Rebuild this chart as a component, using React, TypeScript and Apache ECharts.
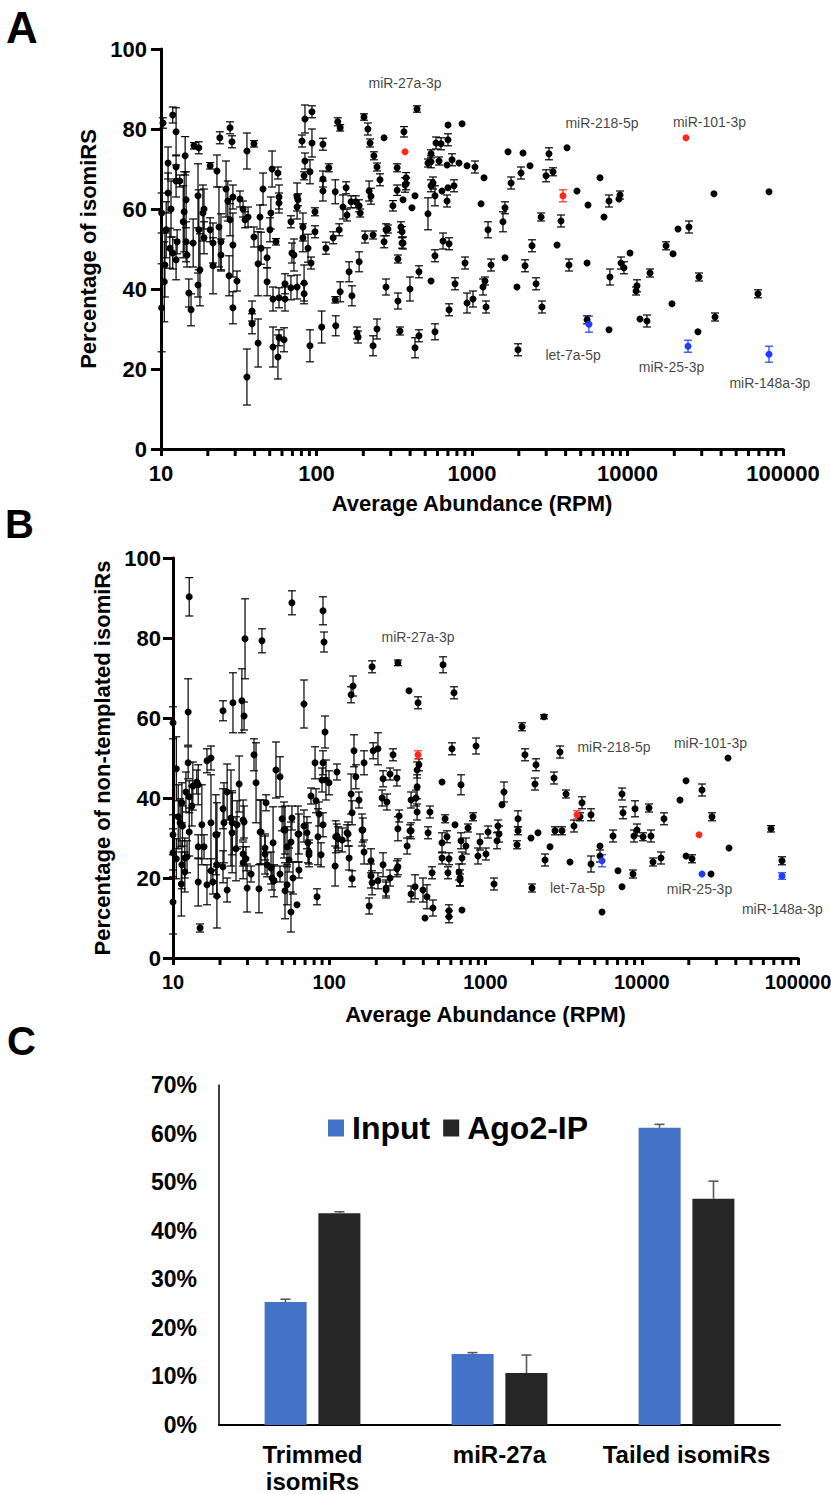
import React, { useEffect, useRef } from "react";
import * as echarts from "echarts";

const FONT = "'Liberation Sans', Arial, Helvetica, sans-serif";

// ---------- Panel A: [average abundance (RPM), percentage of isomiRs, error] ----------
const pointsA: number[][] = [
  [10.3,81.5,1.3],[11.9,83.5,2],[12.5,79.3,6],[11.1,71.5,4],[12.5,70.5,3],[12.5,67,4],[13.2,67,1.5],[14.3,73.3,4.8],[11.1,64,5],[11.6,60,7],
  [16.3,75.8,0.8],[17.5,75.3,1.5],[17.3,63.3,8],[18.9,60,5],[20.7,70.8,0.8],[22.9,69.5,4],[23.9,77.8,1.5],[27.8,80.3,1.5],[28.6,76.8,1.5],[26.2,65,7],
  [26.9,62,5],[29.0,63,3],[32.2,62.5,2],[33.7,60,2],[35.7,74.5,4.5],[39.6,76.3,0.8],[45.3,65,4],[51.8,70,4.5],[56.5,69,1.5],[57.4,63,3],
  [57.4,61.5,2.5],[43.3,58,3],[80.7,77,1.5],[84.3,82.5,3.5],[93.5,84.3,1.5],[84.3,72,2],[83.2,68.3,1],[90.8,69.3,3],[93.5,76.5,3.5],[110,76.2,1.5],
  [110,67.5,2],[110,64.5,2.5],[120,70.3,1],[75,63,3.5],[75,60.5,3],[137,81.8,1],[142,80.3,0.8],[132,64.3,3],[148,60.5,3],[155,65.3,1.5],
  [167,61.8,1.5],[188,60.8,1.5],[191,59,1],[202,83,0.8],[214,80,1.5],[221,76.5,1],[234,73.3,1],[245,70.5,1],[256,67.3,1.5],[218,64.5,2.5],
  [224,63.2,2],[272,77.8,0],[330,70.3,1],[365,79.3,1.3],[330,64.7,1.3],[371,66,1.8],[377,67.8,1.3],[310,60.8,1.3],[360,62.3,0],[411,60.3,0],
  [430,63.3,0],[443,85,0.8],
  [10.1,59,5],[10.8,54.8,7],[11.4,50.2,5],[11.9,49,4],[12.7,51.8,3],[13.9,56.8,9],[14.1,59.3,10],[14.5,62.3,7],[14.5,51.8,5],[16.1,51.5,6],
  [17.5,54.8,10],[18.6,59,7],[18.9,52.8,4],[20.7,54.8,3],[21.6,51.5,5],[23.6,55.5,10],[24.3,51.8,7],[27.8,57.3,4],[29,51,8],[34.7,57.3,2],
  [36.3,58,2.5],[39.6,53,2.5],[44,50.2,4],[48.1,47.8,2.5],[50.2,54.8,3],[50.9,59,4],[54.9,51.8,0.8],[68.5,56.8,1.5],[69.5,49,2.5],[76,62.3,1.5],
  [81.8,55.5,3.5],[81.8,52.8,3.5],[88.2,50.2,3.5],[97.8,59.3,1],[97.8,54.3,1.5],[115,50.2,1.5],[128,52.8,1.5],[140,54.8,1.5],[157,58.5,1.5],[179,61.8,1.5],
  [205,53,1.5],[231,53.5,1],[272,51.8,1.5],[280,54.8,1.5],[288,55,1],[349,55.5,1.3],[355,54.3,1.3],[355,51.5,1.3],
  [10.6,46,8],[10.5,41.8,10],[10.1,35.3,11],[12.5,47.3,5],[14.7,48.5,3],[15.1,39,3.5],[15.6,34.8,4],[17.3,41,3],[17.8,44.8,9],[21.6,45.8,7],
  [24.3,48.5,4],[27.4,43.3,5],[29,35.3,4],[30.8,42,2.5],[35.7,18,7],[38.5,34.5,2.5],[38.5,31.3,2.5],[42.1,46.3,8],[42.1,26.5,6],[48.1,41.8,3.5],
  [52.5,25.5,5],[52.5,37.5,3],[56.5,23,5.5],[57.4,37.8,2.5],[57.4,27.8,2],[61.8,27.3,3],[62.7,41.3,2.5],[62.7,37.5,3],[68.5,40.3,3],[71.6,48.5,4],
  [75,40.5,3],[83.2,41.5,4.5],[83.2,38.8,2.5],[90.8,25.8,4],[92.2,46.5,1.5],[108,30.5,4],[133,30.8,2.5],[132,37.3,0.8],[142,39.3,2.5],[162,44.3,2.5],
  [169,38.3,2.5],[188,46.8,2.5],[182,29,1.5],[185,28,1.5],[231,25.8,2.5],[245,30,2.5],[280,40.5,2],[334,37,2],[334,47.5,1],[344,29.5,1],
  [399,40,3],[430,25.3,2.5],[456,28.3,1.5],
  [377,66.3,1.5],[701,81,0],[863,81.3,0],[587,76.5,1.5],[632,76.3,1.5],[701,77.3,1.5],[545,73.8,1],[521,71.5,1],[545,71.8,1.5],[614,72,1],
  [691,71,0],[744,72.3,1.5],[825,71.5,0],[929,70.8,0],[1045,70.5,1.5],[1195,67.8,0],[545,65.8,1.5],[561,66.5,1.5],[641,64.5,0],[701,65.3,0],
  [766,65.8,1.5],[578,63.3,2.5],[691,62,1.5],[521,58.8,4],[1143,61.3,0],[1268,54.8,2],[1582,56.8,2.5],[1630,60.3,1.5],[1783,66.5,1.5],[1705,74.3,0],
  [2066,69,1.5],[2128,74,0],[2361,70.8,0],[2992,68.3,1.5],[3126,73.8,1.5],[3318,69.3,1],[4083,75.3,0],[4732,64.5,0],[5572,61,0],[6653,67.8,0],
  [7063,58,0],[7603,62,1.5],[8810,62.5,0],[8950,63.5,1],[2782,58,1],[3733,57,1.5],[360,51.5,1.5],[651,52,2],[712,51.3,1.5],[578,48.3,1.5],
  [902,46.5,1.5],[1326,46,1.5],[1630,47.8,0],[2432,50.8,1.5],[3524,51,0],[2193,45.8,1.5],[4206,46,1.5],[5495,46.5,0],[9080,46.5,1.5],[9490,45.3,1.5],
  [10380,49,0],[7712,43,2],[11510,40.8,1.5],[11350,39.5,1],[13960,44,1],[17700,50.8,1],[19630,48.8,0],[21130,55,0],[24850,55.5,1.5],[35980,63.8,0],
  [81280,64.3,0],[28840,43,1],[19320,36.3,0],[36550,33,1],[28380,29.3,0],[69050,38.8,1],[12030,32.5,0],[13340,32,1.5],[7603,29.8,0],[5495,32.3,1],
  [1977,24.8,1.5],[2818,35.5,1.5],[1946,40.5,0],[2582,41.3,1.5],[1231,35.5,1.5],[1177,40.5,2],[1212,42,1],[1015,37.5,2],[929,36.5,2.5],[778,41.3,1.5],
  [712,34.8,1.5],[578,29.3,2],[456,44.3,1.5],[545,42,0],
];
const redA: number[][] = [[371,74.3,0],[3846,63.3,1.5],[23770,77.8,0]];
const blueA: number[][] = [[5650,31.2,2],[24500,25.7,1.5],[81280,23.7,2]];

// ---------- Panel B: [average abundance (RPM), percentage of non-templated isomiRs, error] ----------
const pointsB: number[][] = [
  [12.7,90.3,4.8],[10,58.8,4],[10.5,47.3,8],[12.5,61.5,8.3],[12.5,48.8,4],[12.1,41.5,5],[12.7,40.3,4],[13.4,43,6],[11.4,38.8,5],[13.2,38,5],
  [14.2,44,3],[14.5,43.3,5],[16.5,49.3,3],[17.5,50,3],[20.9,61.8,2.5],[24.2,63.8,7.5],[22.2,41.5,7],[26.5,43.5,7],[27.6,64.3,8],[28.5,60.5,3.5],
  [28.9,79.8,10],[37.1,79.3,3],[33,50.8,4],[34,43.8,10],[39.4,38.8,2],[57.7,88.8,3],[68.9,63.5,6],[45.6,47,7],[48.4,45.3,5],[91.2,86.8,3.5],
  [92.6,79,2.5],[93.9,56.5,4],[81.1,48.8,4],[91.2,48.8,3],[89.9,44.5,3],[95.3,44.5,5],[99.6,43.8,3],[76.4,40.5,2],[82.3,39.3,3],[112,46.5,2],
  [138,65.8,2],[142,68,2.5],[144,51.8,4],[148,45.3,3],[138,41,5],[155,39.5,2],[167,48.8,3],[188,72.8,1.5],[191,51.8,2],[205,52.3,4],
  [256,50.8,1.5],[275,73.8,0.7],[221,44.8,2],[245,46,1.5],[271,45,2],[218,40,2],[234,39,2],[280,35.5,1.5],[324,66.8,0],[370,63.8,1.5],
  [365,47,2],[365,42.8,3],[334,39.5,2],[365,36.5,2],
  [10,30.8,5],[10.8,35.3,8],[11.1,33.8,6],[11.5,33,5],[15.3,33.3,10],[17.5,33.8,12],[19.1,30.8,8],[20.9,37.3,5],[21.2,33.8,10],[23.5,35,12],
  [23.9,33.8,8],[25.7,33.3,6],[28.1,34.5,5],[28.5,34,4],[36.6,31.5,8],[49.9,34.8,3],[52.1,32,6],[57.7,35,3],[64,31,5],[68.9,33,4],
  [86,36,3],[91.2,33.3,3],[112,30.5,3],[130,31.3,2],[140,36.3,3],[164,32,3],[275,32.3,3],[359,40,2],
  [10,26.3,6],[10,14,8],[10.5,24.8,5],[11.3,18.5,8],[11.4,23.3,6],[11.9,21.5,5],[11.9,25,5],[12.3,25.3,4],[12.7,31.5,6],[14.5,19,6],
  [14.9,7.5,1],[14.5,27.8,3],[15.8,27.8,3],[16.5,18.3,5],[17.5,21.8,3],[18,19,3],[18.8,30.8,10],[19.1,23.3,8],[19.1,15.5,8],[20.9,22.8,4],
  [22.2,17,3],[23.9,31.3,10],[25.3,27.3,8],[28.1,23.8,4],[28.1,26,3],[29.3,24.8,3],[29.8,17.5,6],[31.6,21,2],[36.1,31.5,8],[35.5,17.3,6],
  [38.8,26,5],[38.8,27.5,3],[40,23.3,3],[42.4,22.5,4],[43,20,3],[43.7,28.8,9],[44.3,19.3,4],[48.4,21,2],[51.3,32,7],[52.1,16.8,7],
  [53.7,27.8,5],[53.7,18.3,5],[55.3,24.5,3],[56.9,29,5],[56.9,11.5,5],[58.6,20,4],[62.2,13.3,0],[63.1,31,7],[64,22,2],[72,31.3,4],
  [73.1,28.8,5],[74.2,26.5,3],[74.2,25.8,3],[83.5,15.3,2],[84.7,30.3,7],[88.6,25.8,3],[109,23,5],[110,30.3,4],[114,29.8,3],[121,29.5,3],
  [132,31,3],[134,25,3],[140,19.8,2],[162,32,4],[167,26.5,3],[185,24.3,3],[185,20.5,3],[188,18.8,3],[180,13,2],[205,19.3,2],
  [221,23.3,3],[231,17.5,2],[231,17,2],[245,20,2],[271,22.3,2],[275,22.8,2],[315,28,2],[334,31.8,2],[334,16,2],[354,17.8,3],
  [398,17,3],[422,15.3,3],[410,10,0],
  [375,48.3,1.5],[329,31.8,1.5],[461,12.5,2],[455,21.3,1.5],[429,31.3,1.5],[441,36.5,1.5],[527,44,0],[551,34.8,1],[527,28.8,2.5],[567,30.3,1.5],
  [527,25,1.5],[584,24.8,1.5],[575,21.3,1.5],[584,11.8,1.5],[584,10.3,1.5],[610,52.3,1.5],[638,33.3,0],[697,43.3,2.5],[697,29.3,2],[707,25,1.5],
  [677,21.5,2],[687,20,2],[687,19.5,1.5],[707,12,0],[750,28,2],[773,32.5,1],[832,35.3,1],[870,53,2],[895,25.5,2],[922,29,2],
  [1007,26,1.5],[1038,31.5,1.5],[1134,18.5,1.5],[1185,29.3,2],[1202,33,1.5],[1220,31,2],[1275,38.3,0],[1313,41.5,2.5],[1591,28.3,1],[1614,34.8,2],
  [1614,31.8,1],[1712,57.8,1],[1789,50.8,1.5],[1955,30,0],[2074,43.5,1.5],[2105,48.3,1.5],[2168,31.3,0],[1985,17.5,1],[2368,60.3,0.5],[2404,24.5,1.5],
  [2587,27.8,0],[2744,45,1.5],[2785,31.8,1],[3087,31.8,1],[2998,51.5,1.5],[3275,41,1],[3474,24,0],[3685,33,1.5],[4025,35.3,1],[4145,38.8,1.5],
  [4734,35.8,1.5],[4734,23.5,2],[5405,28,0],[5405,25.5,1.5],[5567,11.5,0],[6546,30.5,1.5],[7047,21.8,0],[7474,41,1.5],[7586,36.3,1.5],[7474,17.8,0],
  [8790,21,1],[8920,30.5,1.5],[9055,37.3,2],[9325,32,1.5],[10190,30.3,1],[11130,37.5,1],[11460,30.5,1.5],[11800,24,1],[13280,25,1.5],[13880,34.8,1.5],
  [17570,39.5,0],[19200,44.3,0],[19200,25.5,0],[20970,24.8,1],[24300,42,1.5],[28160,35.3,1],[27750,21,0],[35650,50,0],[36180,27.5,0],[67180,32.3,0.8],
  [79000,24.3,1],[535,73.3,2],[629,66.3,1.5],
];
const redB: number[][] = [[370,50.8,1],[3850,35.8,1],[23250,30.8,0]];
const blueB: number[][] = [[5567,24.3,1.5],[24300,21,0],[79000,20.5,0.8]];

// annotation anchors (data coordinates)
const labelsA = [
  { name: "miR-27a-3p", rpm: 371, pct: 91.5 },
  { name: "miR-218-5p", rpm: 6855, pct: 81.5 },
  { name: "miR-101-3p", rpm: 33650, pct: 81.8 },
  { name: "let-7a-5p", rpm: 4467, pct: 23.5 },
  { name: "miR-25-3p", rpm: 19190, pct: 20.5 },
  { name: "miR-148a-3p", rpm: 82400, pct: 16.5 },
];
const labelsB = [
  { name: "miR-27a-3p", rpm: 370, pct: 80.3 },
  { name: "miR-218-5p", rpm: 6640, pct: 52.8 },
  { name: "miR-101-3p", rpm: 27540, pct: 53.8 },
  { name: "let-7a-5p", rpm: 3880, pct: 17.5 },
  { name: "miR-25-3p", rpm: 23420, pct: 17.3 },
  { name: "miR-148a-3p", rpm: 79430, pct: 12.3 },
];

const minorTicks = [20,30,40,50,60,70,80,90,200,300,400,500,600,700,800,900,2000,3000,4000,5000,6000,7000,8000,9000,20000,30000,40000,50000,60000,70000,80000,90000];

// ---------- Panel C ----------
const categoriesC = ["Trimmed\nisomiRs", "miR-27a", "Tailed isomiRs"];
const inputC = [25.3, 14.6, 61.2];
const inputErrC = [0.6, 0.3, 0.7];
const ago2C = [43.6, 10.7, 46.6];
const ago2ErrC = [0.3, 3.7, 3.6];

const RED = "#ff2a1a";
const BLUE = "#1f3cff";

function errorBars(color: string, lw: number) {
  return (_p: any, api: any) => {
    const x = api.value(0), y = api.value(1), e = api.value(2);
    if (!e) return null;
    const t = api.coord([x, y + e]);
    const b = api.coord([x, Math.max(y - e, 0)]);
    const hw = 4;
    const st = { stroke: color, lineWidth: lw };
    return {
      type: "group",
      children: [
        { type: "line", shape: { x1: t[0], y1: t[1], x2: b[0], y2: b[1] }, style: st },
        { type: "line", shape: { x1: t[0] - hw, y1: t[1], x2: t[0] + hw, y2: t[1] }, style: st },
        { type: "line", shape: { x1: b[0] - hw, y1: b[1], x2: b[0] + hw, y2: b[1] }, style: st },
      ],
    };
  };
}

function barErrors(offset: number) {
  return (_p: any, api: any) => {
    const c = api.value(0), v = api.value(1), e = api.value(2);
    const t = api.coord([c, v + e]);
    const b = api.coord([c, v]);
    const x = t[0] + offset;
    const st = { stroke: "#595959", lineWidth: 1.6 };
    return {
      type: "group",
      children: [
        { type: "line", shape: { x1: x, y1: t[1], x2: x, y2: b[1] }, style: st },
        { type: "line", shape: { x1: x - 5, y1: t[1], x2: x + 5, y2: t[1] }, style: st },
      ],
    };
  };
}

const boldLabel = { fontFamily: FONT, fontWeight: "bold" as const, fontSize: 22, color: "#000" };

function scatterAxes(idx: number, yName: string, nameGapX: number, nameGapY: number, labelMarginX: number, labelMarginY: number, xLabelSize: number) {
  const x = {
    type: "log", logBase: 10, min: 10, max: 100000, gridIndex: idx,
    name: "Average Abundance (RPM)", nameLocation: "middle", nameGap: nameGapX,
    nameTextStyle: { ...boldLabel },
    axisLine: { show: true, lineStyle: { color: "#000", width: 3 } },
    axisTick: { show: true, length: 7, lineStyle: { color: "#000", width: 3 } },
    minorTick: { show: false },
    splitLine: { show: false },
    axisLabel: { ...boldLabel, fontSize: xLabelSize, margin: labelMarginX, formatter: (v: number) => String(Math.round(v)) },
  };
  const y = {
    type: "value", min: 0, max: 100, interval: 20, gridIndex: idx,
    name: yName, nameLocation: "middle", nameGap: nameGapY, nameRotate: 90,
    nameTextStyle: { ...boldLabel },
    axisLine: { show: true, lineStyle: { color: "#000", width: 3 } },
    axisTick: { show: true, length: 10, lineStyle: { color: "#000", width: 3 } },
    splitLine: { show: false },
    axisLabel: { ...boldLabel, margin: labelMarginY },
  };
  return { x, y };
}

function scatterSeries(idx: number, black: number[][], red: number[][], blue: number[][], labels: { name: string; rpm: number; pct: number }[]) {
  const common = { xAxisIndex: idx, yAxisIndex: idx };
  const dot = (color: string) => ({ color, opacity: 1 });
  return [
    { ...common, type: "custom", renderItem: errorBars("#000", 1.2), data: black, clip: false, silent: true, z: 2 },
    { ...common, type: "custom", renderItem: errorBars(RED, 1.2), data: red, clip: false, silent: true, z: 2 },
    { ...common, type: "custom", renderItem: errorBars(BLUE, 1.2), data: blue, clip: false, silent: true, z: 2 },
    { ...common, type: "scatter", symbol: "circle", symbolSize: 7, itemStyle: dot("#000"), data: black.map((d) => [d[0], d[1]]), z: 3, clip: false },
    { ...common, type: "scatter", symbol: "circle", symbolSize: 7, itemStyle: dot(RED), data: red.map((d) => [d[0], d[1]]), z: 4, clip: false },
    { ...common, type: "scatter", symbol: "circle", symbolSize: 7, itemStyle: dot(BLUE), data: blue.map((d) => [d[0], d[1]]), z: 4, clip: false },
    {
      ...common, type: "scatter", symbol: "circle", symbolSize: 1, itemStyle: { color: "rgba(0,0,0,0)" }, silent: true, clip: false, z: 5,
      label: { show: true, position: "inside", formatter: "{b}", fontFamily: FONT, fontSize: 14, color: "#111" },
      data: labels.map((l) => ({ name: l.name, value: [l.rpm, l.pct] })),
    },
    {
      ...common, type: "custom", clip: false, silent: true, z: 1,
      renderItem: (_p: any, api: any) => {
        const p = api.coord([api.value(0), 0]);
        return { type: "line", shape: { x1: p[0], y1: p[1], x2: p[0], y2: p[1] + 7 }, style: { stroke: "#000", lineWidth: 3 } };
      },
      data: minorTicks.map((v) => [v, 0]),
    },
  ];
}

export default function App() {
  const ref = useRef<HTMLDivElement>(null);
  useEffect(() => {
    document.body.style.margin = "0";
    const chart = echarts.init(ref.current!, null, { renderer: "svg" });
    const axA = scatterAxes(0, "Percentage of isomiRS", 43, 58, 13, 14, 22);
    const axB = scatterAxes(1, "Percentage of non-templated isomiRs", 45, 55, 14, 12, 20);
    const option: any = {
      animation: false,
      backgroundColor: "#fff",
      textStyle: { fontFamily: FONT },
      grid: [
        { left: 161, top: 49, width: 622, height: 400, outerBoundsMode: "none", containLabel: false },
        { left: 173, top: 558, width: 625, height: 400, outerBoundsMode: "none", containLabel: false },
        { left: 219, top: 1085, width: 561, height: 340, outerBoundsMode: "none", containLabel: false },
      ],
      xAxis: [
        axA.x,
        axB.x,
        {
          type: "category", gridIndex: 2, data: categoriesC,
          axisLine: { show: true, lineStyle: { color: "#000", width: 2 } },
          axisTick: { show: false },
          axisLabel: { fontFamily: FONT, fontWeight: "bold", fontSize: 24, color: "#000", margin: 16, lineHeight: 27, interval: 0 },
        },
      ],
      yAxis: [
        axA.y,
        axB.y,
        {
          type: "value", gridIndex: 2, min: 0, max: 70, interval: 10,
          axisLine: { show: true, lineStyle: { color: "#000", width: 1.5 } },
          axisTick: { show: false },
          splitLine: { show: false },
          axisLabel: { fontFamily: FONT, fontWeight: "bold", fontSize: 23, color: "#000", margin: 22, formatter: "{value}%" },
        },
      ],
      legend: {
        data: ["Input", "Ago2-IP"], left: 323, top: 1107, icon: "rect", itemWidth: 16, itemHeight: 17, itemGap: 13,
        selectedMode: false,
        textStyle: { fontFamily: FONT, fontWeight: "bold", fontSize: 32, color: "#000", padding: [0, 0, 0, 3] },
      },
      graphic: [
        { type: "text", style: { x: 6, y: 27, text: "A", font: `bold 44px ${FONT}`, fill: "#000", verticalAlign: "middle" } },
        { type: "text", style: { x: 5, y: 524, text: "B", font: `bold 40px ${FONT}`, fill: "#000", verticalAlign: "middle" } },
        { type: "text", style: { x: 7, y: 1041, text: "C", font: `bold 40px ${FONT}`, fill: "#000", verticalAlign: "middle" } },
      ],
      series: [
        ...scatterSeries(0, pointsA, redA, blueA, labelsA),
        ...scatterSeries(1, pointsB, redB, blueB, labelsB),
        {
          name: "Input", type: "bar", xAxisIndex: 2, yAxisIndex: 2, data: inputC, barWidth: 42, barGap: "28%",
          itemStyle: { color: "#4472C4" },
        },
        {
          name: "Ago2-IP", type: "bar", xAxisIndex: 2, yAxisIndex: 2, data: ago2C, barWidth: 42, barGap: "28%",
          itemStyle: { color: "#262626" },
        },
        {
          type: "custom", xAxisIndex: 2, yAxisIndex: 2, renderItem: barErrors(-27), clip: false, silent: true, z: 5,
          data: inputC.map((v, i) => [i, v, inputErrC[i]]),
        },
        {
          type: "custom", xAxisIndex: 2, yAxisIndex: 2, renderItem: barErrors(27), clip: false, silent: true, z: 5,
          data: ago2C.map((v, i) => [i, v, ago2ErrC[i]]),
        },
      ],
    };
    chart.setOption(option);
    return () => chart.dispose();
  }, []);
  return <div ref={ref} style={{ width: 831, height: 1494 }} />;
}
